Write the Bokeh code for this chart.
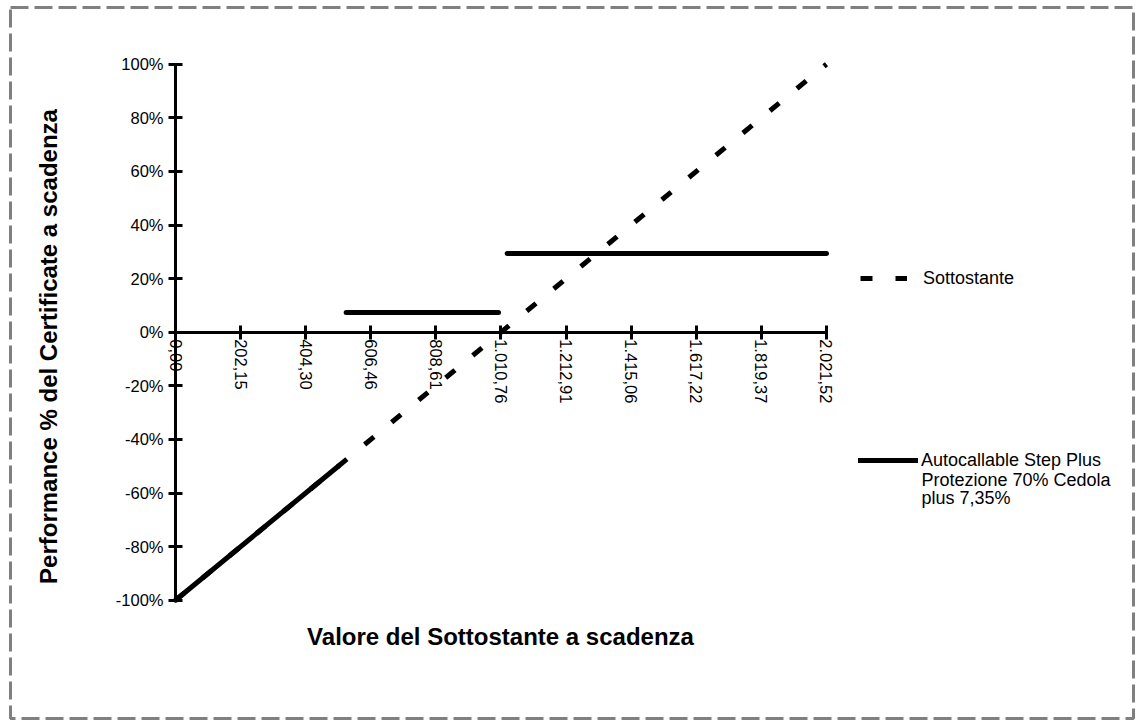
import math
from bokeh.plotting import figure
from bokeh.models import FixedTicker, Legend, LegendItem, Label
from bokeh.embed import file_html
from bokeh.resources import INLINE

# ---- data ----
x_ticks = [0, 202.152, 404.304, 606.456, 808.608, 1010.76, 1212.912, 1415.064, 1617.216, 1819.368, 2021.52]
x_tick_labels = ["0,00", "202,15", "404,30", "606,46", "808,61", "1.010,76", "1.212,91", "1.415,06", "1.617,22", "1.819,37", "2.021,52"]
y_ticks = [-1.0, -0.8, -0.6, -0.4, -0.2, 0.0, 0.2, 0.4, 0.6, 0.8, 1.0]
y_tick_labels = ["-100%", "-80%", "-60%", "-40%", "-20%", "0%", "20%", "40%", "60%", "80%", "100%"]

sott_x = [0, 2021.52]
sott_y = [-1.0, 1.0]

auto_seg1_x = [0, 505.38]
auto_seg1_y = [-1.0, -0.5]
auto_seg2_x = [530, 1003]
auto_seg2_y = [0.0735, 0.0735]
auto_seg3_x = [1030, 2021.52]
auto_seg3_y = [0.294, 0.294]

legend_sott = "Sottostante"
legend_auto_lines = ["Autocallable Step Plus", "Protezione 70% Cedola", "plus 7,35%"]

FONT = "Liberation Sans"

p = figure(width=1136, height=720, output_backend="svg", toolbar_location=None,
           x_range=(-512.4, 2974.9), y_range=(-1.4414, 1.2116),
           min_border_left=10, min_border_right=3, min_border_top=7, min_border_bottom=2)
p.background_fill_color = "white"
p.border_fill_color = "white"
p.grid.visible = False
p.outline_line_color = "#808080"
p.outline_line_width = 3
p.outline_line_dash = "18 6"

# axes crossing at zero
for ax in (p.xaxis[0], p.yaxis[0]):
    ax.fixed_location = 0
    ax.axis_line_color = "black"
    ax.axis_line_width = 3
    ax.major_tick_line_color = "black"
    ax.major_tick_line_width = 3
    ax.major_tick_in = 7
    ax.major_tick_out = 7
    ax.minor_tick_line_color = None
    ax.major_label_text_font = FONT
    ax.major_label_text_font_size = "16.5px"
    ax.major_label_text_color = "black"

p.xaxis[0].bounds = (0, 2021.52)
p.yaxis[0].bounds = (-1, 1)
p.xaxis[0].ticker = FixedTicker(ticks=x_ticks)
p.yaxis[0].ticker = FixedTicker(ticks=y_ticks)
p.xaxis[0].major_label_overrides = dict(zip(x_ticks, x_tick_labels))
p.yaxis[0].major_label_overrides = dict(zip(y_ticks, y_tick_labels))
p.xaxis[0].major_label_orientation = "vertical"
p.xaxis[0].major_label_standoff = 0
p.yaxis[0].major_label_standoff = 5

# series
r_sott = p.line(sott_x, sott_y, line_color="black", line_width=5, line_dash="12 23", line_cap="butt")
r1 = p.line(auto_seg1_x, auto_seg1_y, line_color="black", line_width=5, line_cap="round")
r2 = p.line(auto_seg2_x, auto_seg2_y, line_color="black", line_width=5, line_cap="round")
r3 = p.line(auto_seg3_x, auto_seg3_y, line_color="black", line_width=5, line_cap="round")

def make_legend(items, loc, gw, standoff):
    leg = Legend(items=items, location=loc, padding=0, margin=0, spacing=0,
                 border_line_alpha=0, background_fill_alpha=0,
                 glyph_width=gw, glyph_height=22, label_height=22, label_standoff=standoff,
                 label_text_font=FONT, label_text_font_size="18px",
                 label_text_color="black", label_text_baseline="middle")
    p.add_layout(leg)

make_legend([LegendItem(label=legend_sott, renderers=[r_sott])], (850, 429), 47, 16)
make_legend([LegendItem(label=legend_auto_lines[0], renderers=[r1])], (848, 247), 60, 3)

for i, txt in enumerate(legend_auto_lines[1:]):
    p.add_layout(Label(x=911, y=239 - 18 * i, x_units="screen", y_units="screen",
                       text=txt, text_font=FONT, text_font_size="18px",
                       text_align="left", text_baseline="middle", text_color="black"))

p.add_layout(Label(x=490, y=82, x_units="screen", y_units="screen",
                   text="Valore del Sottostante a scadenza", text_font=FONT,
                   text_font_size="24px", text_font_style="bold", text_align="center",
                   text_baseline="middle", text_color="black"))
p.add_layout(Label(x=38, y=372, x_units="screen", y_units="screen", angle=math.pi / 2,
                   text="Performance % del Certificate a scadenza", text_font=FONT,
                   text_font_size="24px", text_font_style="bold", text_align="center",
                   text_baseline="middle", text_color="black"))

open("out.html", "w").write(file_html(p, INLINE))
